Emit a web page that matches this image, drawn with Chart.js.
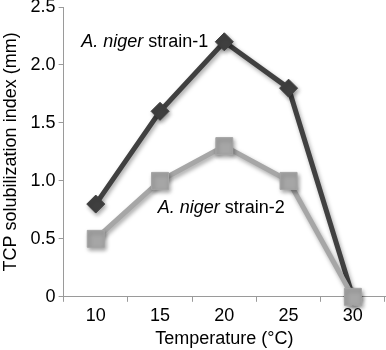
<!DOCTYPE html>
<html>
<head>
<meta charset="utf-8">
<script src="https://cdn.jsdelivr.net/npm/chart.js@4/dist/chart.umd.min.js"></script>
<style>
  html, body { margin: 0; padding: 0; background: #fff; }
  #wrap { width: 386px; height: 350px; }
</style>
</head>
<body>
<div id="wrap"><canvas id="c" width="386" height="350"></canvas></div>
<script>
const temperatures = ['10', '15', '20', '25', '30'];
const strain1 = [0.8, 1.6, 2.2, 1.8, 0];
const strain2 = [0.5, 1.0, 1.3, 1.0, 0];
const yTickLabels = ['0', '0.5', '1.0', '1.5', '2.0', '2.5'];
const seriesNames = ['A. niger strain-1', 'A. niger strain-2'];

const FONT = '"Liberation Sans", Arial, Helvetica, sans-serif';
const DARK = '#404040';
const LIGHT = '#a6a6a6';
const AXIS = '#9a9a9a';

// annotation placement (category index, value, pixel shift, align)
const notes = [
  { italic: 'A. niger', rest: ' strain-1', idx: 2, val: 2.2, dx: -16, align: 'right' },
  { italic: 'A. niger', rest: ' strain-2', idx: 2, val: 0.77, dx: -3, align: 'center' }
];

const shadowPlugin = {
  id: 'shadow',
  beforeDatasetDraw(chart) {
    const ctx = chart.ctx;
    ctx.save();
    ctx.shadowColor = 'rgba(0,0,0,0.35)';
    ctx.shadowBlur = 4;
    ctx.shadowOffsetX = 1.5;
    ctx.shadowOffsetY = 2.5;
  },
  afterDatasetDraw(chart) {
    chart.ctx.restore();
  }
};

const notePlugin = {
  id: 'notes',
  afterDatasetsDraw(chart) {
    const ctx = chart.ctx;
    const xs = chart.scales.x, ys = chart.scales.y;
    ctx.save();
    ctx.fillStyle = '#000';
    ctx.textBaseline = 'middle';
    notes.forEach(n => {
      const x = xs.getPixelForValue(n.idx) + n.dx;
      const y = ys.getPixelForValue(n.val);
      ctx.font = 'italic 18px ' + FONT;
      const w1 = ctx.measureText(n.italic).width;
      ctx.font = '18px ' + FONT;
      const w2 = ctx.measureText(n.rest).width;
      const total = w1 + w2;
      let left = x;
      if (n.align === 'right') left = x - total;
      else if (n.align === 'center') left = x - total / 2;
      ctx.textAlign = 'left';
      ctx.font = 'italic 18px ' + FONT;
      ctx.fillText(n.italic, left, y);
      ctx.font = '18px ' + FONT;
      ctx.fillText(n.rest, left + w1, y);
    });
    ctx.restore();
  }
};

new Chart(document.getElementById('c'), {
  type: 'line',
  data: {
    labels: temperatures,
    datasets: [
      {
        label: seriesNames[0],
        data: strain1,
        borderColor: DARK,
        backgroundColor: DARK,
        borderWidth: 5,
        pointStyle: 'rectRot',
        pointRadius: 9,
        pointBorderWidth: 1,
        pointBackgroundColor: DARK,
        pointBorderColor: DARK,
        tension: 0,
        clip: false,
        order: 2
      },
      {
        label: seriesNames[1],
        data: strain2,
        borderColor: LIGHT,
        backgroundColor: LIGHT,
        borderWidth: 5,
        pointStyle: 'rect',
        pointRadius: 12,
        pointBorderWidth: 1,
        pointBackgroundColor: LIGHT,
        pointBorderColor: LIGHT,
        tension: 0,
        clip: false,
        order: 1
      }
    ]
  },
  options: {
    responsive: false,
    animation: false,
    devicePixelRatio: 1,
    layout: { autoPadding: false, padding: { top: 0, right: 1, left: 0, bottom: 0 } },
    plugins: {
      legend: { display: false },
      tooltip: { enabled: false }
    },
    scales: {
      x: {
        type: 'category',
        offset: true,
        grid: { offset: true, drawOnChartArea: false, drawTicks: true, tickLength: 5, color: AXIS },
        border: { color: AXIS, width: 1 },
        ticks: { color: '#000', font: { family: FONT, size: 18 }, padding: 3, maxRotation: 0 },
        title: { display: true, text: 'Temperature (°C)', color: '#000', font: { family: FONT, size: 18 }, padding: { top: 0, bottom: 0 } },
        afterFit: (s) => { s.height = s.height - 1; }
      },
      y: {
        min: 0,
        max: 2.5,
        grid: { drawOnChartArea: false, drawTicks: true, tickLength: 5, color: AXIS },
        border: { color: AXIS, width: 1 },
        ticks: {
          stepSize: 0.5,
          color: '#000',
          font: { family: FONT, size: 18 },
          padding: 3,
          callback: (v, i) => yTickLabels[i]
        },
        title: { display: true, text: 'TCP solubilization index (mm)', color: '#000', font: { family: FONT, size: 18 }, padding: { top: 0, bottom: 6 } },
        afterFit: (s) => { s.paddingTop = 7; }
      }
    }
  },
  plugins: [shadowPlugin, notePlugin]
});
</script>
</body>
</html>
